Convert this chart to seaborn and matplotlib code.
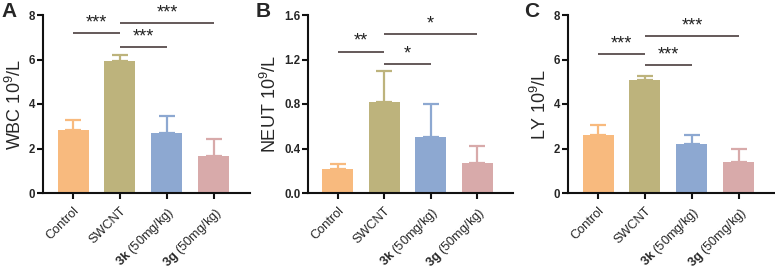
import numpy as np
import pandas as pd
import seaborn as sns
import matplotlib
matplotlib.use("Agg")
import matplotlib.pyplot as plt
from matplotlib.transforms import ScaledTranslation

sns.set_style("ticks")
plt.rcParams['font.family'] = ['Liberation Sans', 'DejaVu Sans']
plt.rcParams['mathtext.fontset'] = 'custom'
plt.rcParams['mathtext.bf'] = 'Liberation Sans:bold'
plt.rcParams['mathtext.rm'] = 'Liberation Sans'
plt.rcParams['mathtext.it'] = 'Liberation Sans:italic'

groups = ["Control", "SWCNT", "3k (50mg/kg)", "3g (50mg/kg)"]
tick_labels = ["Control", "SWCNT", r"$\mathbf{3k}$ (50mg/kg)", r"$\mathbf{3g}$ (50mg/kg)"]
colors = ["#F8BA7E", "#BDB37C", "#8DA8D1", "#D8AAAA"]

wbc_mean = [2.85, 5.92, 2.70, 1.68]
wbc_sd = [0.45, 0.28, 0.75, 0.75]
neut_mean = [0.22, 0.82, 0.50, 0.27]
neut_sd = [0.04, 0.28, 0.30, 0.15]
ly_mean = [2.60, 5.08, 2.18, 1.40]
ly_sd = [0.45, 0.17, 0.42, 0.60]

panels = ["A", "B", "C"]
ylabels = ["WBC 10$^{9}$/L", "NEUT 10$^{9}$/L", "LY 10$^{9}$/L"]
yticks = [[0, 2, 4, 6, 8], [0.0, 0.4, 0.8, 1.2, 1.6], [0, 2, 4, 6, 8]]
ytick_fmt = ["{:.0f}", "{:.1f}", "{:.0f}"]
means = [wbc_mean, neut_mean, ly_mean]
sds = [wbc_sd, neut_sd, ly_sd]
# brackets: (i, j, y, label)
brackets = [
    [(0, 1, 7.2, "***"), (1, 3, 7.65, "***"), (1, 2, 6.55, "***")],
    [(0, 1, 1.27, "**"), (1, 3, 1.43, "*"), (1, 2, 1.16, "*")],
    [(0, 1, 6.23, "***"), (1, 3, 7.04, "***"), (1, 2, 5.74, "***")],
]

W, H = 775, 275
fig = plt.figure(figsize=(W / 100, H / 100), dpi=100)
lefts = [43, 308, 568]
rights = [250, 513, 775]
letter_x = [1, 256, 524]
bottom_px, top_px = 193, 15

for k in range(3):
    ax = fig.add_axes([lefts[k] / W, 1 - bottom_px / H, (rights[k] - lefts[k]) / W, (bottom_px - top_px) / H])
    df = pd.DataFrame({"group": groups, "value": means[k]})
    sns.barplot(data=df, x="group", y="value", hue="group", palette=colors, legend=False,
                width=0.66, ax=ax, errorbar=None, linewidth=0, edgecolor="none", saturation=1)
    for i in range(4):
        ax.errorbar(i, means[k][i], yerr=[[0], [sds[k][i]]], color=colors[i], capsize=5.5,
                    elinewidth=1.6, capthick=1.6, fmt="none", zorder=3)
    top = yticks[k][-1]
    ax.set_ylim(0, top)
    ax.set_xlim(-0.64, 3.77)
    ax.set_yticks(yticks[k])
    ax.set_yticklabels([ytick_fmt[k].format(v) for v in yticks[k]], fontweight="bold", fontsize=8.3)
    ax.set_xticks(range(4))
    ax.set_xticklabels(tick_labels, rotation=45, ha="right", rotation_mode="anchor", fontsize=9.2)
    off = ScaledTranslation(9 / 100, -2 / 100, fig.dpi_scale_trans)
    for lbl in ax.get_xticklabels():
        lbl.set_transform(lbl.get_transform() + off)
    ax.set_xlabel("")
    ax.set_ylabel(ylabels[k], fontsize=13, labelpad=3)
    for s in ["top", "right"]:
        ax.spines[s].set_visible(False)
    for s in ["left", "bottom"]:
        ax.spines[s].set_linewidth(1.5)
        ax.spines[s].set_color("#111111")
    ax.tick_params(axis="y", width=1.5, length=4, color="#111111", pad=1.5)
    ax.tick_params(axis="x", width=1.5, length=4.5, color="#111111", pad=4)
    for (i, j, y, lab) in brackets[k]:
        ax.plot([i, j], [y, y], color="#3a2c2c", lw=1.1, solid_capstyle="butt", clip_on=False)
        ax.text((i + j) / 2, y + top * 0.01, lab, ha="center", va="bottom", fontsize=13,
                color="#222222", clip_on=False)
    fig.text(letter_x[k] / W, 1 - 2 / H, panels[k], fontsize=15, fontweight="bold",
             ha="left", va="top")

fig.savefig("out.png", dpi=100)
